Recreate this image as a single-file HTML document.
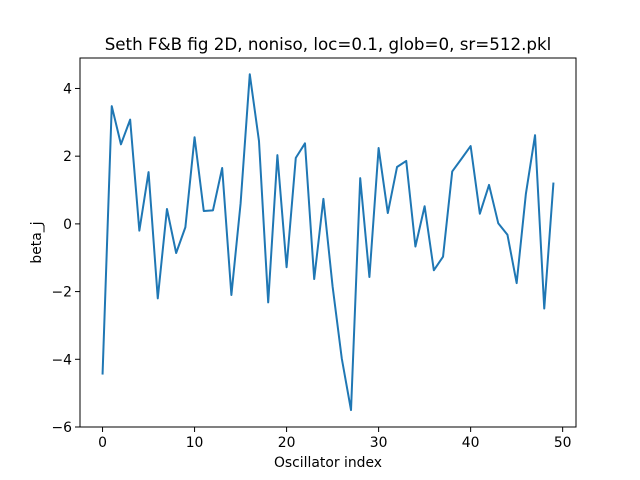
<!DOCTYPE html>
<html><head><meta charset="utf-8"><style>
body{margin:0;background:#fff;}
svg{display:block;font-family:"DejaVu Sans","Liberation Sans",sans-serif;}
</style></head><body>
<svg id="chart" width="640" height="480"></svg>
<script>
const xTicks=[0,10,20,30,40,50];
const yTicks=[4,2,0,-2,-4,-6];
const betaValues=[-4.45,3.48,2.35,3.08,-0.2,1.53,-2.2,0.44,-0.86,-0.1,2.56,0.38,0.4,1.65,-2.1,0.6,4.42,2.45,-2.32,2.03,-1.28,1.95,2.38,-1.63,0.74,-1.85,-3.98,-5.5,1.35,-1.57,2.24,0.32,1.68,1.86,-0.67,0.52,-1.37,-0.97,1.55,1.92,2.3,0.3,1.15,0.02,-0.32,-1.75,0.88,2.62,-2.5,1.22];
const ns="http://www.w3.org/2000/svg";
const svg=document.getElementById('chart');
const L=80,R=576,T=58,B=427;
const xmin=-2.45,xmax=51.45,ymin=-6,ymax=4.9;
const xs=v=>L+(v-xmin)/(xmax-xmin)*(R-L);
const ys=v=>B-(v-ymin)/(ymax-ymin)*(B-T);
function mk(t,a,txt){const e=document.createElementNS(ns,t);for(const k in a)e.setAttribute(k,a[k]);if(txt!==undefined)e.textContent=txt;svg.appendChild(e);return e;}
const title=mk('text',{x:(L+R)/2,y:50,'text-anchor':'middle','font-size':16.7},'Seth F&B fig 2D, noniso, loc=0.1, glob=0, sr=512.pkl');


const pts=betaValues.map((v,i)=>xs(i).toFixed(2)+','+ys(v).toFixed(2)).join(' ');
const line=mk('polyline',{points:pts,fill:'none',stroke:'#1f77b4','stroke-width':2,'stroke-linejoin':'round'});


const frame=mk('rect',{x:L,y:T,width:R-L,height:B-T,fill:'none',stroke:'#000','stroke-width':1});


xTicks.forEach(v=>{
  const tk=mk('line',{x1:xs(v),x2:xs(v),y1:B,y2:B+5,stroke:'#000','stroke-width':1});
  
  
  const lb=mk('text',{x:xs(v),y:B+20,'text-anchor':'middle','font-size':13.9},String(v));
  
  
});
yTicks.forEach(v=>{
  const tk=mk('line',{x1:L-5,x2:L,y1:ys(v),y2:ys(v),stroke:'#000','stroke-width':1});
  
  
  const lb=mk('text',{x:L-8,y:ys(v)+5,'text-anchor':'end','font-size':13.9},v<0?'\u2212'+(-v):String(v));
  
  
});
const xl=mk('text',{x:(L+R)/2,y:467,'text-anchor':'middle','font-size':13.9},'Oscillator index');


const yl=mk('text',{x:0,y:0,'text-anchor':'middle','font-size':13.9,transform:'translate(41,'+((T+B)/2)+') rotate(-90)'},'beta_j');


</script>
</body></html>
